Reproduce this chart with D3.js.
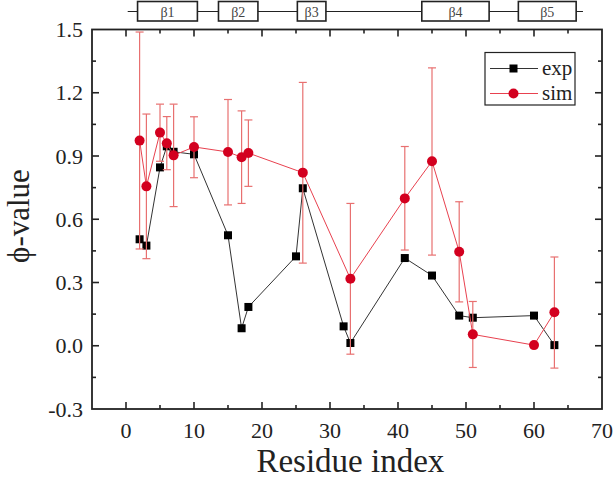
<!DOCTYPE html>
<html><head><meta charset="utf-8">
<script src="https://cdn.jsdelivr.net/npm/d3@7"></script>
<style>
html,body{margin:0;padding:0;background:#fff;}
svg{display:block;font-family:"Liberation Serif","Times New Roman",serif;}
</style></head>
<body>
<svg id="chart" width="614" height="480"></svg>
<script>
// Experimental phi-values
const expResidues = [2,3,5,6,7,10,15,17,18,25,26,32,33,41,45,49,51,60,63];
const expValues   = [0.505,0.475,0.846,0.946,0.920,0.908,0.524,0.083,0.184,0.424,0.747,0.092,0.013,0.416,0.333,0.143,0.133,0.143,0.003];
// Simulated phi-values with error bar bounds
const simResidues = [2,3,5,6,7,10,15,17,18,26,33,41,45,49,51,60,63];
const simValues   = [0.973,0.756,1.011,0.960,0.903,0.943,0.919,0.894,0.914,0.821,0.318,0.699,0.875,0.446,0.054,0.003,0.159];
const simUpper    = [1.488,1.099,1.146,1.087,1.146,1.086,1.168,1.114,1.071,1.249,0.675,0.945,1.318,0.683,0.210,null,0.421];
const simLower    = [0.459,0.413,0.875,0.835,0.660,0.797,0.668,0.675,0.756,0.392,-0.040,0.454,0.430,0.208,-0.103,null,-0.106];
// Secondary structure (beta strands)
const strandNames = ["β1","β2","β3","β4","β5"];
const strandStart = [1.7,13.6,25.2,43.5,57.7];
const strandEnd   = [10.5,19.4,29.4,53.4,66.2];
const topoRange   = [0.25,67.2];
// Axis ticks
const xTicks = [0,10,20,30,40,50,60,70];
const yTicks = [-0.3,0,0.3,0.6,0.9,1.2,1.5];
const seriesNames = ["exp","sim"];

const svg = d3.select("#chart");
const L=92, R=602, T=29.5, B=409;
const x = d3.scaleLinear().domain([-5,70]).range([L,R]);
const y = d3.scaleLinear().domain([-0.3,1.5]).range([B,T]);

const RED = "#d3001f", REDLINE = "#e8414f", ERR = "#e87070";

// Topology bar
const topo = svg.append("g");
topo.append("line").attr("x1",x(topoRange[0])).attr("x2",x(topoRange[1]))
  .attr("y1",11.5).attr("y2",11.5).attr("stroke","#222").attr("stroke-width",1.2);
strandNames.forEach((n,i)=>{
  topo.append("rect").attr("x",x(strandStart[i])).attr("y",1.5)
    .attr("width",x(strandEnd[i])-x(strandStart[i])).attr("height",19.5)
    .attr("fill","#fff").attr("stroke","#222").attr("stroke-width",1.6);
  topo.append("text").attr("x",(x(strandStart[i])+x(strandEnd[i]))/2).attr("y",16.5)
    .attr("text-anchor","middle").attr("font-size",14).attr("fill","#444").text(n);
});

// Frame
svg.append("rect").attr("x",L).attr("y",T).attr("width",R-L).attr("height",B-T)
  .attr("fill","none").attr("stroke","#222").attr("stroke-width",1.8);

// Ticks
const xMinor = d3.range(-5,71,5), yMinor = d3.range(-0.3,1.501,0.15);
const tk = svg.append("g").attr("stroke","#222").attr("stroke-width",1.6);
xMinor.forEach(v=>{
  const major = xTicks.some(t=>Math.abs(t-v)<1e-6);
  const len = major?7:4;
  if (x(v)<=L+1 || x(v)>=R-1) return;
  tk.append("line").attr("x1",x(v)).attr("x2",x(v)).attr("y1",B).attr("y2",B-len);
  tk.append("line").attr("x1",x(v)).attr("x2",x(v)).attr("y1",T).attr("y2",T+len);
});
yMinor.forEach(v=>{
  const major = yTicks.some(t=>Math.abs(t-v)<1e-6);
  const len = major?7:4;
  if (y(v)>=B-1 || y(v)<=T+1) return;
  tk.append("line").attr("x1",L).attr("x2",L+len).attr("y1",y(v)).attr("y2",y(v));
  tk.append("line").attr("x1",R).attr("x2",R-len).attr("y1",y(v)).attr("y2",y(v));
});

// Tick labels
svg.append("g").selectAll("text").data(xTicks).join("text")
  .attr("x",d=>x(d)).attr("y",438).attr("text-anchor","middle")
  .attr("font-size",22).attr("fill","#222").text(d=>d);
svg.append("g").selectAll("text").data(yTicks).join("text")
  .attr("x",83).attr("y",d=>y(d)+7.5).attr("text-anchor","end")
  .attr("font-size",22).attr("fill","#222").text(d=>d3.format(".1f")(d).replace("−","-"));

// Axis titles
svg.append("text").attr("x",x(33)).attr("y",472).attr("text-anchor","middle")
  .attr("font-size",33).attr("fill","#222").text("Residue index");
svg.append("text").attr("transform","translate(29,216) rotate(-90)")
  .attr("text-anchor","middle").attr("font-size",31).attr("fill","#222").text("ϕ-value");

// Exp series
const expData = expResidues.map((r,i)=>({x:r,y:expValues[i]}));
const line = d3.line().x(d=>x(d.x)).y(d=>y(d.y));
svg.append("path").datum(expData).attr("d",line).attr("fill","none")
  .attr("stroke","#333").attr("stroke-width",1);
svg.append("g").selectAll("rect").data(expData).join("rect")
  .attr("x",d=>x(d.x)-4).attr("y",d=>y(d.y)-4).attr("width",8).attr("height",8)
  .attr("fill","#000");

// Sim series
const simData = simResidues.map((r,i)=>({x:r,y:simValues[i],hi:simUpper[i],lo:simLower[i]}));
svg.append("path").datum(simData).attr("d",line).attr("fill","none")
  .attr("stroke",REDLINE).attr("stroke-width",1);
const eb = svg.append("g").attr("stroke",ERR).attr("stroke-width",1.2);
simData.filter(d=>d.hi!==null).forEach(d=>{
  eb.append("line").attr("x1",x(d.x)).attr("x2",x(d.x)).attr("y1",y(d.hi)).attr("y2",y(d.lo));
  eb.append("line").attr("x1",x(d.x)-4).attr("x2",x(d.x)+4).attr("y1",y(d.hi)).attr("y2",y(d.hi));
  eb.append("line").attr("x1",x(d.x)-4).attr("x2",x(d.x)+4).attr("y1",y(d.lo)).attr("y2",y(d.lo));
});
svg.append("g").selectAll("circle").data(simData).join("circle")
  .attr("cx",d=>x(d.x)).attr("cy",d=>y(d.y)).attr("r",5).attr("fill",RED);

// Legend
const lg = svg.append("g");
lg.append("rect").attr("x",485).attr("y",52.5).attr("width",90).attr("height",52.5)
  .attr("fill","#fff").attr("stroke","#222").attr("stroke-width",1.2);
[0,1].forEach(i=>{
  const yy = i===0?68.5:93.5;
  lg.append("line").attr("x1",490).attr("x2",538).attr("y1",yy).attr("y2",yy)
    .attr("stroke",i===0?"#333":REDLINE).attr("stroke-width",1);
  if(i===0) lg.append("rect").attr("x",509.5).attr("y",yy-4).attr("width",8).attr("height",8).attr("fill","#000");
  else lg.append("circle").attr("cx",513.5).attr("cy",yy).attr("r",5).attr("fill",RED);
  lg.append("text").attr("x",542).attr("y",yy+6).attr("font-size",21).attr("fill","#222").text(seriesNames[i]);
});
</script>
</body></html>
